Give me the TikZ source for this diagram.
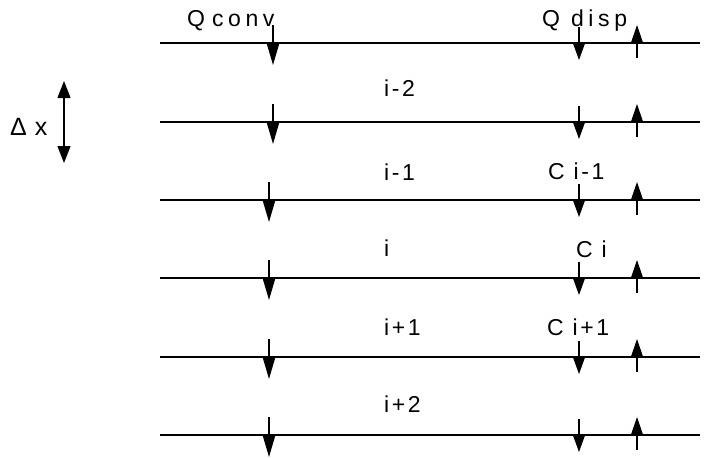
\documentclass[tikz,border=0pt]{standalone}
\usepackage{fontspec}
\setmainfont{Liberation Sans}
\newfontfamily\wideface{Liberation Sans}[LetterSpace=20]
\newfontfamily\midface{Liberation Sans}[LetterSpace=11]
\newfontfamily\plainface{Liberation Sans}[LetterSpace=4]
\usetikzlibrary{arrows.meta}
\begin{document}
\begin{tikzpicture}[x=1pt,y=-1pt,
  lbl/.style={anchor=base west, inner sep=0pt, font=\midface\fontsize{23}{27}\selectfont},
  qlbl/.style={anchor=base west, inner sep=0pt, font=\wideface\fontsize{23}{27}\selectfont},
  dlbl/.style={anchor=base west, inner sep=0pt, font=\plainface\fontsize{25}{29}\selectfont},
  hline/.style={line width=1.2pt},
  darr/.style={line width=1.2pt, -{Triangle[length=21pt,width=12pt]}},
  marr/.style={line width=1.2pt, -{Triangle[length=17pt,width=12pt]}},
  uarr/.style={line width=1.2pt, -{Triangle[length=18pt,width=12pt]}},
  dxarr/.style={line width=1.2pt, {Triangle[length=17pt,width=13pt]}-{Triangle[length=17pt,width=13pt]}}]
\useasboundingbox (0,0) rectangle (715,458);
% horizontal grid lines and arrows
\foreach \n/\y/\xl in {1/43/273,2/122/273,3/200/269,4/278/269,5/357/269,6/435/269} {
  \coordinate (la\n) at (160,\y);
  \coordinate (lb\n) at (700,\y);
  \draw[hline] (la\n) -- (lb\n);
  \coordinate (ca\n) at (\xl,\y-18);
  \coordinate (cb\n) at (\xl,\y+22);
  \draw[darr] (ca\n) -- (cb\n);
  \coordinate (da\n) at (579,\y-16);
  \coordinate (db\n) at (579,\y+17);
  \draw[marr] (da\n) -- (db\n);
  \coordinate (ua\n) at (637,\y+15);
  \coordinate (ub\n) at (637,\y-18);
  \draw[uarr] (ua\n) -- (ub\n);
}
% labels
\node[qlbl] (qconv) at (187,26) {Q\kern7pt conv};
\node[qlbl] (qdisp) at (542,26) {Q disp};
\node[lbl] (r1) at (384,96) {i-2};
\node[lbl] (r2) at (384,180) {i-1};
\node[lbl] (r3) at (384,256) {i};
\node[lbl] (r4) at (384,335) {i+1};
\node[lbl] (r5) at (384,412) {i+2};
\node[lbl] (c2) at (548,179) {C i-1};
\node[lbl] (c3) at (576,257) {C i};
\node[lbl] (c4) at (547,335) {C i+1};
\node[dlbl] (dx) at (10,135) {Δ x};
% delta x arrow
\coordinate (dxa) at (64,81);
\coordinate (dxb) at (64,163);
\draw[dxarr] (dxa) -- (dxb);
\end{tikzpicture}
\end{document}
